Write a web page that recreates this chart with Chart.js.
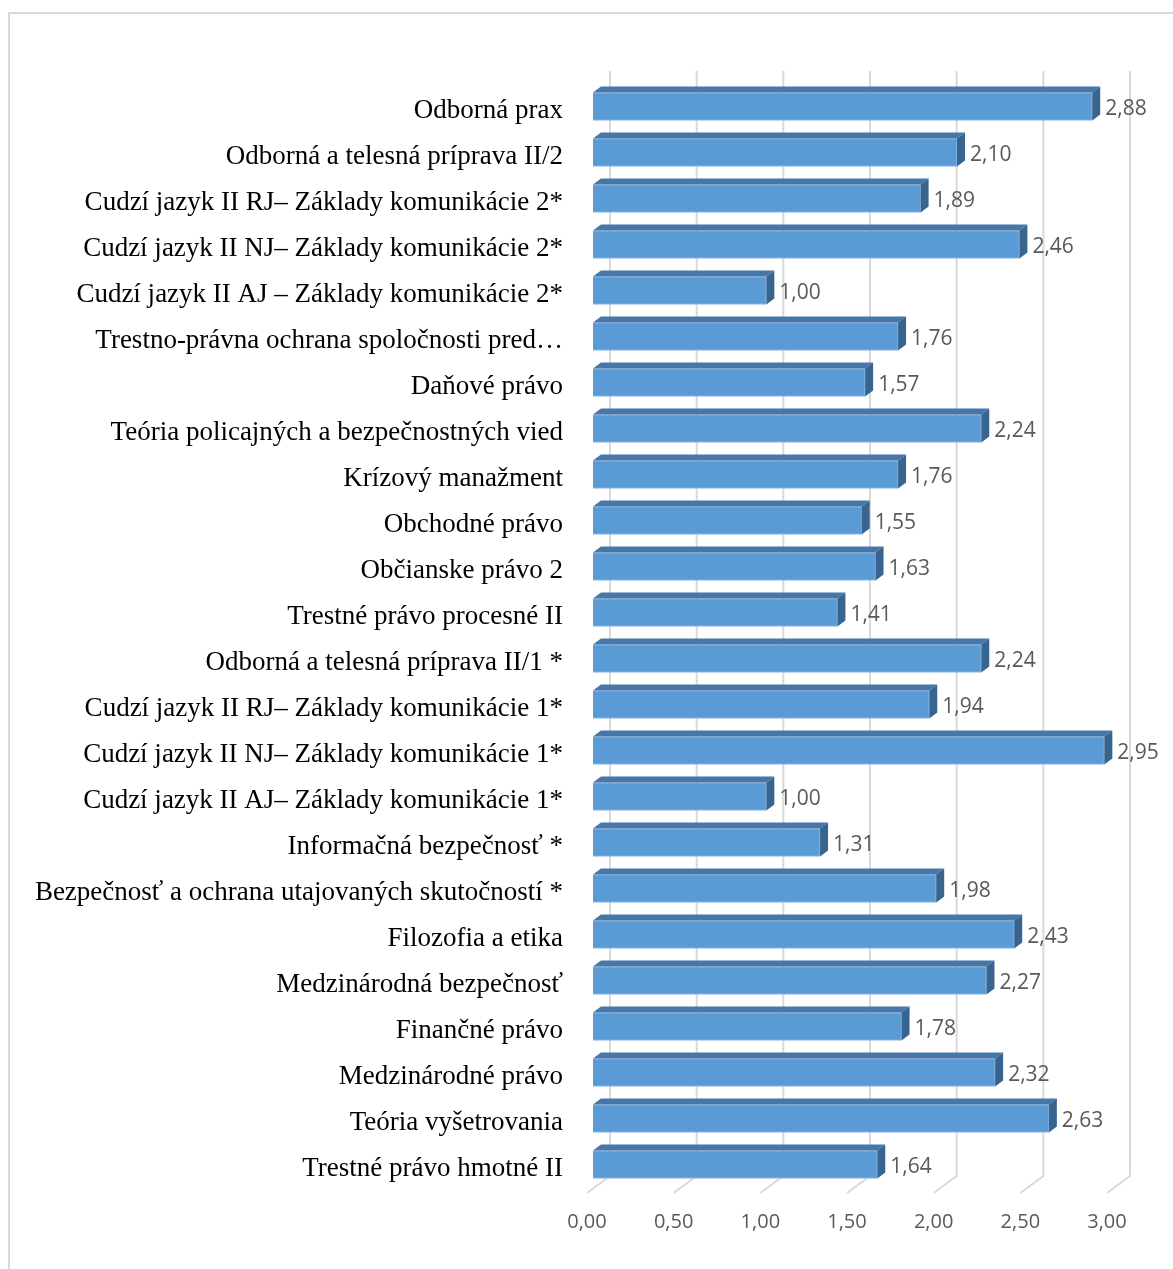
<!DOCTYPE html>
<html>
<head>
<meta charset="utf-8">
<script src="https://cdn.jsdelivr.net/npm/chart.js@4"></script>
<style>
  body { margin: 0; background: #fff; }
  #frame { position: absolute; left: 8px; top: 12px; width: 1400px; height: 1400px;
           border: 2px solid #d9d9d9; box-sizing: border-box; }
  #wrap { position: absolute; left: 0; top: 0; width: 1173px; height: 1269px; }
</style>
</head>
<body>
<div id="frame"></div>
<div id="wrap"><canvas id="chart" width="1173" height="1269"></canvas></div>
<script>
// Categories, top to bottom as shown in the picture
const subjects = [
    "Odborná prax",
    "Odborná a telesná príprava II/2",
    "Cudzí jazyk II RJ– Základy komunikácie 2*",
    "Cudzí jazyk II NJ– Základy komunikácie 2*",
    "Cudzí jazyk II AJ – Základy komunikácie 2*",
    "Trestno-právna ochrana spoločnosti pred…",
    "Daňové právo",
    "Teória policajných a bezpečnostných vied",
    "Krízový manažment",
    "Obchodné právo",
    "Občianske právo 2",
    "Trestné právo procesné II",
    "Odborná a telesná príprava II/1 *",
    "Cudzí jazyk II RJ– Základy komunikácie 1*",
    "Cudzí jazyk II NJ– Základy komunikácie 1*",
    "Cudzí jazyk II AJ– Základy komunikácie 1*",
    "Informačná bezpečnosť *",
    "Bezpečnosť a ochrana utajovaných skutočností *",
    "Filozofia a etika",
    "Medzinárodná bezpečnosť",
    "Finančné právo",
    "Medzinárodné právo",
    "Teória vyšetrovania",
    "Trestné právo hmotné II"
];
const averages = [2.88, 2.10, 1.89, 2.46, 1.00, 1.76, 1.57, 2.24, 1.76, 1.55, 1.63, 1.41,
                  2.24, 1.94, 2.95, 1.00, 1.31, 1.98, 2.43, 2.27, 1.78, 2.32, 2.63, 1.64];
const axisMin = 0;
const axisMax = 3;
const axisStep = 0.5;

const fmt = v => v.toFixed(2).replace(".", ",");

// 3D look: depth of the bars and of the back wall
const DEPTH_X = 8, DEPTH_Y = 6;
const WALL_X = 17, WALL_TOP = 71, FLOOR_Y = 1176, FLOOR_DX = 23, FLOOR_DY = 17;

const wallGrid = {
    id: "wallGrid",
    beforeDatasetsDraw(chart) {
        const ctx = chart.ctx;
        const xs = chart.scales.x;
        ctx.save();
        ctx.strokeStyle = "#d9d9d9";
        ctx.lineWidth = 2;
        xs.ticks.forEach(t => {
            const px = xs.getPixelForValue(t.value) + WALL_X;
            ctx.beginPath();
            ctx.moveTo(px, WALL_TOP);
            ctx.lineTo(px, FLOOR_Y);
            ctx.lineTo(px - FLOOR_DX, FLOOR_Y + FLOOR_DY);
            ctx.stroke();
        });
        ctx.restore();
    }
};

const bars3d = {
    id: "bars3d",
    afterDatasetsDraw(chart) {
        const ctx = chart.ctx;
        const meta = chart.getDatasetMeta(0);
        ctx.save();
        meta.data.forEach((bar, i) => {
            const top = bar.y - bar.height / 2;
            const bottom = bar.y + bar.height / 2;
            // top face
            ctx.fillStyle = "#4677a8";
            ctx.beginPath();
            ctx.moveTo(bar.base, top);
            ctx.lineTo(bar.x, top);
            ctx.lineTo(bar.x + DEPTH_X, top - DEPTH_Y);
            ctx.lineTo(bar.base + DEPTH_X, top - DEPTH_Y);
            ctx.closePath();
            ctx.fill();
            // right face
            ctx.fillStyle = "#386490";
            ctx.beginPath();
            ctx.moveTo(bar.x, top);
            ctx.lineTo(bar.x + DEPTH_X, top - DEPTH_Y);
            ctx.lineTo(bar.x + DEPTH_X, bottom - DEPTH_Y);
            ctx.lineTo(bar.x, bottom);
            ctx.closePath();
            ctx.fill();
            // value label
            ctx.fillStyle = "#595959";
            ctx.font = "21px 'Open Sans'";
            ctx.textAlign = "left";
            ctx.textBaseline = "middle";
            ctx.fillText(fmt(averages[i]), bar.x + DEPTH_X + 5, bar.y + 3);
        });
        ctx.restore();
    }
};

new Chart(document.getElementById("chart"), {
    type: "bar",
    data: {
        labels: subjects,
        datasets: [{
            data: averages,
            backgroundColor: "#5b9bd5",
            borderColor: "#8db8e2",
            borderWidth: 1,
            barThickness: 28
        }]
    },
    options: {
        indexAxis: "y",
        responsive: false,
        animation: false,
        devicePixelRatio: 1,
        layout: { padding: { top: 83.5, right: 60, bottom: 0, left: 0 } },
        plugins: { legend: { display: false }, tooltip: { enabled: false } },
        scales: {
            x: {
                min: axisMin,
                max: axisMax,
                grid: { display: false, drawTicks: false },
                border: { display: false },
                ticks: {
                    stepSize: axisStep,
                    padding: 23,
                    labelOffset: -6,
                    color: "#595959",
                    font: { family: "'Open Sans'", size: 20 },
                    callback: v => fmt(v)
                },
                afterFit: s => { s.height = 81.5; }
            },
            y: {
                grid: { display: false, drawTicks: false },
                border: { display: false },
                ticks: {
                    autoSkip: false,
                    padding: 30,
                    labelOffset: 4,
                    color: "#000",
                    font: { family: "'Liberation Serif'", size: 27 }
                },
                afterFit: s => { s.width = 593; }
            }
        }
    },
    plugins: [wallGrid, bars3d]
});
</script>
</body>
</html>
